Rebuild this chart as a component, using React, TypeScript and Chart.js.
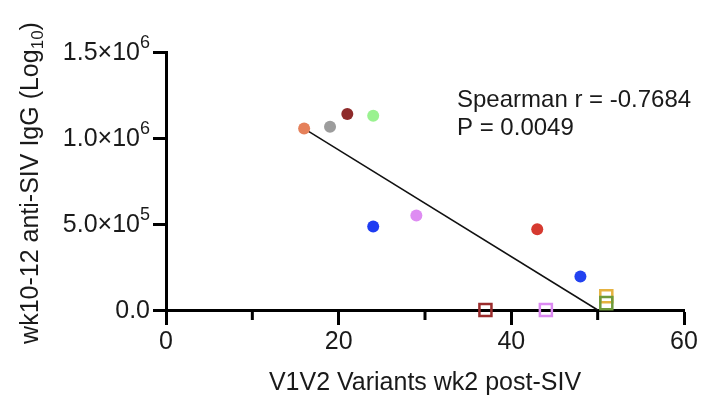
import React, { useEffect, useRef } from 'react';
import { Chart, registerables } from 'chart.js';

Chart.register(...registerables);

// ---- data ----
const circleX = [16, 19, 21, 24, 24, 29, 43, 48];
const circleY = [1055000, 1065000, 1140000, 1130000, 485000, 550000, 470000, 195000];
const circleColors = ['#E5805A', '#9C9C9C', '#8E2A2A', '#9AF290', '#1E3CF2', '#DE8CF2', '#D63A30', '#2242F0'];

const squareX = [37, 44, 51, 51];
const squareY = [0, 0, 80000, 40000];
const squareColors = ['#9A2C2C', '#DC8AF2', '#E5B240', '#6E9A3A'];

const fitX = [16, 50];
const fitY = [1055000, 0];

const yTickValues = [0, 500000, 1000000, 1500000];
const yTickMantissa = ['0.0', '5.0×10', '1.0×10', '1.5×10'];
const yTickExponent = ['', '5', '6', '6'];
const xMajorTicks = [0, 20, 40, 60];
const xMinorTicks = [10, 30, 50];

const xTitle = 'V1V2 Variants wk2 post-SIV';
const yTitleMain = 'wk10-12 anti-SIV IgG (Log';
const yTitleSub = '10';
const yTitleEnd = ')';
const statLines = ['Spearman r = -0.7684', 'P = 0.0049'];

const FONT = '"Liberation Sans", Arial, Helvetica, sans-serif';
const TICK_FS = 25;
const YT_FS = 25;
const XT_FS = 25;
const STAT_FS = 24;

const textPlugin = {
  id: 'textPlugin',
  afterDraw(chart: any) {
    const { ctx, chartArea, scales } = chart;
    const xs = scales.x;
    const ys = scales.y;
    ctx.save();
    // minor ticks
    ctx.strokeStyle = '#000';
    ctx.lineWidth = 3;
    xMinorTicks.forEach((v) => {
      const px = xs.getPixelForValue(v);
      ctx.beginPath();
      ctx.moveTo(px, chartArea.bottom);
      ctx.lineTo(px, chartArea.bottom + 10);
      ctx.stroke();
    });
    ctx.fillStyle = '#1a1a1a';
    // y tick labels with superscript exponent
    const rightX = chartArea.left - 13 - 3;
    yTickValues.forEach((v, i) => {
      const py = ys.getPixelForValue(v);
      ctx.textBaseline = 'middle';
      ctx.textAlign = 'right';
      let x = rightX;
      if (yTickExponent[i]) {
        ctx.font = `${Math.round(TICK_FS * 0.7)}px ${FONT}`;
        ctx.fillText(yTickExponent[i], x, py - TICK_FS * 0.36);
        x -= ctx.measureText(yTickExponent[i]).width;
      }
      ctx.font = `${TICK_FS}px ${FONT}`;
      ctx.fillText(yTickMantissa[i], x, py + 1);
    });
    // x title
    ctx.font = `${XT_FS}px ${FONT}`;
    ctx.textAlign = 'center';
    ctx.textBaseline = 'middle';
    ctx.fillText(xTitle, (chartArea.left + chartArea.right) / 2, 383);
    // y title with subscript
    ctx.save();
    const cy = (chartArea.top + chartArea.bottom) / 2 + 2;
    ctx.translate(31, cy);
    ctx.rotate(-Math.PI / 2);
    ctx.textAlign = 'left';
    ctx.textBaseline = 'middle';
    const subFont = `${Math.round(YT_FS * 0.68)}px ${FONT}`;
    const mainFont = `${YT_FS}px ${FONT}`;
    ctx.font = mainFont;
    const w1 = ctx.measureText(yTitleMain).width;
    const w3 = ctx.measureText(yTitleEnd).width;
    ctx.font = subFont;
    const w2 = ctx.measureText(yTitleSub).width;
    const total = w1 + w2 + w3;
    let x0 = -total / 2;
    ctx.font = mainFont;
    ctx.fillText(yTitleMain, x0, 0);
    x0 += w1;
    ctx.font = subFont;
    ctx.fillText(yTitleSub, x0, YT_FS * 0.3);
    x0 += w2;
    ctx.font = mainFont;
    ctx.fillText(yTitleEnd, x0, 0);
    ctx.restore();
    // stats annotation
    ctx.font = `${STAT_FS}px ${FONT}`;
    ctx.textAlign = 'left';
    ctx.textBaseline = 'middle';
    ctx.fillText(statLines[0], 457, 100);
    ctx.fillText(statLines[1], 457, 128);
    ctx.restore();
  },
};

export default function App() {
  const ref = useRef<HTMLCanvasElement>(null);
  useEffect(() => {
    if (!ref.current) return;
    const chart = new Chart(ref.current, {
      type: 'scatter',
      data: {
        datasets: [
          {
            type: 'line',
            label: 'fit',
            data: fitX.map((x, i) => ({ x, y: fitY[i] })),
            borderColor: '#111',
            borderWidth: 1.5,
            pointRadius: 0,
            fill: false,
            clip: false,
            order: 3,
          } as any,
          {
            label: 'circles',
            data: circleX.map((x, i) => ({ x, y: circleY[i] })),
            pointBackgroundColor: circleColors,
            pointBorderColor: circleColors,
            pointBorderWidth: 0,
            pointRadius: 6,
            pointStyle: 'circle',
            clip: false,
            order: 2,
          },
          {
            label: 'squares',
            data: squareX.map((x, i) => ({ x, y: squareY[i] })),
            pointBackgroundColor: 'rgba(255,255,255,0)',
            pointBorderColor: squareColors,
            pointBorderWidth: 2.5,
            pointRadius: 8.5,
            pointStyle: 'rect',
            clip: false,
            order: 1,
          },
        ],
      },
      options: {
        animation: false,
        responsive: false,
        maintainAspectRatio: false,
        layout: { padding: { left: 0, top: 52, right: 17, bottom: 0 } },
        plugins: {
          legend: { display: false },
          tooltip: { enabled: false },
        },
        scales: {
          x: {
            type: 'linear',
            min: 0,
            max: 60,
            ticks: {
              stepSize: 10,
              color: '#1a1a1a',
              font: { family: FONT, size: TICK_FS },
              padding: 2,
              maxRotation: 0,
              callback: (v: any) => (xMajorTicks.includes(Number(v)) ? String(v) : ''),
            },
            grid: {
              drawOnChartArea: false,
              drawTicks: true,
              tickLength: 15,
              tickWidth: 3,
              tickColor: (c: any) => (xMajorTicks.includes(c.tick?.value) ? '#000' : 'rgba(0,0,0,0)'),
            },
            border: { display: true, color: '#000', width: 3 },
            afterFit: (s: any) => {
              s.height = 90;
            },
          },
          y: {
            type: 'linear',
            min: 0,
            max: 1500000,
            ticks: {
              stepSize: 500000,
              color: '#1a1a1a',
              font: { family: FONT, size: TICK_FS },
              padding: 3,
              callback: () => '',
            },
            grid: {
              drawOnChartArea: false,
              drawTicks: true,
              tickLength: 13,
              tickWidth: 3,
              tickColor: '#000',
            },
            border: { display: true, color: '#000', width: 3 },
            afterFit: (s: any) => {
              s.width = 166;
            },
          },
        },
      },
      plugins: [textPlugin],
    });
    return () => chart.destroy();
  }, []);
  return (
    <div style={{ position: 'fixed', left: 0, top: 0, width: 701, height: 400, background: '#fff' }}>
      <canvas ref={ref} width={701} height={400} style={{ width: 701, height: 400, display: 'block' }} />
    </div>
  );
}
